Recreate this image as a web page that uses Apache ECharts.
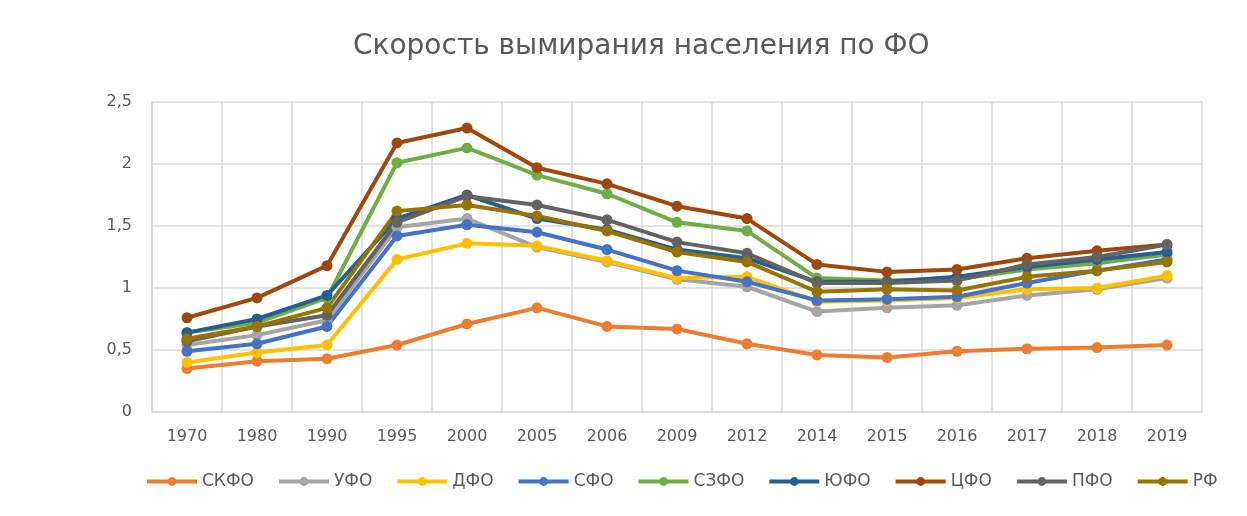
<!DOCTYPE html>
<html>
<head>
<meta charset="utf-8">
<script src="https://cdn.jsdelivr.net/npm/echarts@6/dist/echarts.min.js"></script>
<style>
  html, body { margin: 0; padding: 0; background: #fff; }
  #chart { width: 1247px; height: 516px; }
</style>
</head>
<body>
<div id="chart"></div>
<script>
const years = ['1970', '1980', '1990', '1995', '2000', '2005', '2006', '2009', '2012', '2014', '2015', '2016', '2017', '2018', '2019']

const skfo = [0.35, 0.41, 0.43, 0.54, 0.71, 0.84, 0.69, 0.67, 0.55, 0.46, 0.44, 0.49, 0.51, 0.52, 0.54]
const ufo  = [0.54, 0.62, 0.74, 1.49, 1.56, 1.33, 1.21, 1.07, 1.01, 0.81, 0.84, 0.86, 0.94, 0.99, 1.08]
const dfo  = [0.40, 0.48, 0.54, 1.23, 1.36, 1.34, 1.22, 1.08, 1.09, 0.89, 0.90, 0.92, 0.99, 1.00, 1.10]
const sfo  = [0.49, 0.55, 0.69, 1.42, 1.51, 1.45, 1.31, 1.14, 1.05, 0.90, 0.91, 0.93, 1.04, 1.14, 1.23]
const szfo = [0.64, 0.72, 0.92, 2.01, 2.13, 1.91, 1.76, 1.53, 1.46, 1.08, 1.06, 1.07, 1.15, 1.20, 1.27]
const yufo = [0.64, 0.75, 0.94, 1.56, 1.75, 1.56, 1.47, 1.31, 1.24, 1.05, 1.05, 1.09, 1.17, 1.23, 1.29]
const cfo  = [0.76, 0.92, 1.18, 2.17, 2.29, 1.97, 1.84, 1.66, 1.56, 1.19, 1.13, 1.15, 1.24, 1.30, 1.35]
const pfo  = [0.57, 0.69, 0.78, 1.53, 1.74, 1.67, 1.55, 1.37, 1.28, 1.04, 1.04, 1.06, 1.19, 1.25, 1.35]
const rf   = [0.59, 0.69, 0.84, 1.62, 1.67, 1.58, 1.46, 1.29, 1.21, 0.97, 0.99, 0.98, 1.09, 1.14, 1.21]

const names = ['СКФО', 'УФО', 'ДФО', 'СФО', 'СЗФО', 'ЮФО', 'ЦФО', 'ПФО', 'РФ']
const values = [skfo, ufo, dfo, sfo, szfo, yufo, cfo, pfo, rf]
const colors = ['#ED7D31', '#A5A5A5', '#FFC000', '#4472C4', '#70AD47', '#255E91', '#9E480E', '#636363', '#997300']

const chart = echarts.init(document.getElementById('chart'))

const font = 'DejaVu Sans'

const option = {
  backgroundColor: '#fff',
  color: colors,
  title: {
    text: 'Скорость вымирания населения по ФО',
    left: 348,
    top: 28,
    textStyle: {
      fontFamily: font,
      fontSize: 28,
      fontWeight: 'normal',
      color: '#595959'
    }
  },
  legend: {
    data: names,
    bottom: 21,
    left: 140,
    itemWidth: 50,
    itemHeight: 11,
    itemGap: 23,
    lineStyle: { width: 4 },
    textStyle: {
      fontFamily: font,
      fontSize: 17,
      color: '#595959'
    }
  },
  grid: {
    left: 152,
    right: 45,
    top: 102,
    bottom: 104
  },
  xAxis: {
    type: 'category',
    data: years,
    boundaryGap: true,
    axisTick: { show: false },
    axisLine: { lineStyle: { color: '#D9D9D9', width: 1.5 } },
    axisLabel: {
      fontFamily: font,
      fontSize: 16,
      color: '#595959',
      margin: 17
    },
    splitLine: {
      show: true,
      lineStyle: { color: '#D9D9D9', width: 1.5 }
    }
  },
  yAxis: {
    type: 'value',
    min: 0,
    max: 2.5,
    interval: 0.5,
    axisLine: { show: true, lineStyle: { color: '#D9D9D9', width: 1.5 } },
    axisTick: { show: false },
    axisLabel: {
      fontFamily: font,
      fontSize: 16,
      color: '#595959',
      margin: 20,
      formatter: v => String(v).replace('.', ',')
    },
    splitLine: {
      lineStyle: { color: '#D9D9D9', width: 1.5 }
    }
  },
  series: names.map((name, i) => ({
    name: name,
    type: 'line',
    data: values[i],
    symbol: 'circle',
    symbolSize: 11,
    lineStyle: { width: 4 },
    emphasis: { disabled: true }
  }))
}

chart.setOption(option)
</script>
</body>
</html>
